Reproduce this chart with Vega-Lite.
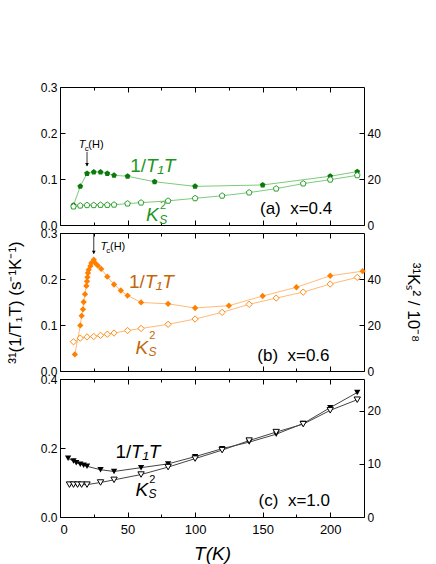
{
  "$schema": "https://vega.github.io/schema/vega-lite/v6.json",
  "background": "white",
  "padding": {"left": 5, "top": 80, "right": 0, "bottom": 0},
  "spacing": 8,
  "bounds": "flush",
  "datasets": {
    "a_r": [
      {"T": 10, "r": 0.043}, {"T": 15, "r": 0.084}, {"T": 20, "r": 0.112}, {"T": 25, "r": 0.115},
      {"T": 30, "r": 0.115}, {"T": 35, "r": 0.112}, {"T": 40, "r": 0.108}, {"T": 50, "r": 0.106},
      {"T": 70, "r": 0.094}, {"T": 100, "r": 0.084}, {"T": 150, "r": 0.087}, {"T": 200, "r": 0.106},
      {"T": 220, "r": 0.116}
    ],
    "a_k": [
      {"T": 10, "k": 8.0}, {"T": 15, "k": 8.4}, {"T": 20, "k": 8.6}, {"T": 25, "k": 8.6},
      {"T": 30, "k": 8.7}, {"T": 35, "k": 8.7}, {"T": 40, "k": 8.8}, {"T": 50, "k": 9.3},
      {"T": 60, "k": 9.7}, {"T": 80, "k": 10.5}, {"T": 100, "k": 11.6}, {"T": 120, "k": 12.7},
      {"T": 140, "k": 14.1}, {"T": 160, "k": 15.8}, {"T": 180, "k": 18.0}, {"T": 200, "k": 19.7},
      {"T": 220, "k": 21.6}
    ],
    "b_r": [
      {"T": 11, "r": 0.036}, {"T": 15, "r": 0.099}, {"T": 16, "r": 0.12}, {"T": 17, "r": 0.134},
      {"T": 17.5, "r": 0.15}, {"T": 18.5, "r": 0.167}, {"T": 19.5, "r": 0.185}, {"T": 20, "r": 0.195},
      {"T": 20.3, "r": 0.204}, {"T": 20.7, "r": 0.213}, {"T": 21.2, "r": 0.22}, {"T": 22.5, "r": 0.228},
      {"T": 23.2, "r": 0.235}, {"T": 25, "r": 0.242}, {"T": 26, "r": 0.235}, {"T": 28, "r": 0.229},
      {"T": 30.5, "r": 0.222}, {"T": 35, "r": 0.205}, {"T": 40, "r": 0.188}, {"T": 45, "r": 0.175},
      {"T": 50, "r": 0.164}, {"T": 60, "r": 0.149}, {"T": 80, "r": 0.146}, {"T": 100, "r": 0.137},
      {"T": 125, "r": 0.142}, {"T": 150, "r": 0.163}, {"T": 175, "r": 0.182}, {"T": 200, "r": 0.207},
      {"T": 224, "r": 0.217}
    ],
    "b_k": [
      {"T": 10, "k": 12.7}, {"T": 15, "k": 14.3}, {"T": 20, "k": 14.8}, {"T": 25, "k": 15.0},
      {"T": 30, "k": 15.5}, {"T": 35, "k": 16.0}, {"T": 40, "k": 16.5}, {"T": 50, "k": 17.6},
      {"T": 60, "k": 18.5}, {"T": 80, "k": 20.3}, {"T": 100, "k": 22.6}, {"T": 120, "k": 25.5},
      {"T": 140, "k": 29.0}, {"T": 160, "k": 31.7}, {"T": 180, "k": 34.3}, {"T": 200, "k": 37.8},
      {"T": 220, "k": 40.7}
    ],
    "c_r": [
      {"T": 6, "r": 0.17}, {"T": 10, "r": 0.162}, {"T": 12, "r": 0.157}, {"T": 15, "r": 0.153},
      {"T": 17.5, "r": 0.15}, {"T": 20, "r": 0.147}, {"T": 30, "r": 0.137}, {"T": 40, "r": 0.132},
      {"T": 60, "r": 0.143}, {"T": 80, "r": 0.154}, {"T": 100, "r": 0.175}, {"T": 120, "r": 0.198},
      {"T": 140, "r": 0.217}, {"T": 160, "r": 0.24}, {"T": 180, "r": 0.271}, {"T": 200, "r": 0.317},
      {"T": 220, "r": 0.361}
    ],
    "c_k": [
      {"T": 7, "k": 6.1}, {"T": 10, "k": 6.1}, {"T": 13, "k": 6.1}, {"T": 16, "k": 6.1},
      {"T": 20, "k": 6.1}, {"T": 30, "k": 6.5}, {"T": 40, "k": 7.0}, {"T": 60, "k": 8.0},
      {"T": 80, "k": 9.4}, {"T": 100, "k": 11.0}, {"T": 120, "k": 12.6}, {"T": 140, "k": 14.4},
      {"T": 160, "k": 16.0}, {"T": 180, "k": 17.5}, {"T": 200, "k": 20.1}, {"T": 220, "k": 22.1}
    ]
  },
  "vconcat": [
    {
      "width": 304,
      "height": 138,
      "layer": [
        {
          "encoding": {
            "x": {"field": "T", "type": "quantitative", "scale": {"domain": [0, 225]},
              "axis": {"values": [0, 25, 50, 75, 100, 125, 150, 175, 200], "labels": false, "title": null,
                "tickSize": {"condition": {"test": "datum.value % 50 == 0", "value": -5}, "value": -3}}}
          },
          "layer": [
            {"data": {"name": "a_r"}, "mark": {"type": "line", "color": "#7ccc7c", "strokeWidth": 1},
              "encoding": {"y": {"field": "r", "type": "quantitative", "scale": {"domain": [0, 0.3]},
                "axis": {"values": [0, 0.05, 0.1, 0.15, 0.2, 0.25, 0.3], "title": null, "labelPadding": 8,
                  "labelExpr": "abs(datum.value * 10 - round(datum.value * 10)) < 0.001 ? format(datum.value, '.1f') : ''",
                  "tickSize": {"condition": {"test": "abs(datum.value * 10 - round(datum.value * 10)) < 0.001", "value": -5}, "value": -3}}}}},
            {"data": {"name": "a_r"}, "mark": {"type": "point", "filled": true, "opacity": 1, "color": "#0b7a0b", "size": 36,
                "shape": "M0,-1L0.951,-0.309L0.588,0.809L-0.588,0.809L-0.951,-0.309Z"},
              "encoding": {"y": {"field": "r", "type": "quantitative"}}},
            {"data": {"values": [{"T": 52, "r": 0.116, "txt": "1/"}]},
              "mark": {"type": "text", "align": "left", "baseline": "alphabetic", "fontSize": 19, "color": "#1e961e"},
              "encoding": {"y": {"field": "r", "type": "quantitative"}, "text": {"field": "txt"}}},
            {"data": {"values": [{"T": 63.7, "r": 0.116, "txt": "T₁T"}, {"T": 63.7, "r": 0.009, "txt": "K"}]},
              "mark": {"type": "text", "align": "left", "baseline": "alphabetic", "fontSize": 19, "fontStyle": "italic", "color": "#1e961e"},
              "encoding": {"y": {"field": "r", "type": "quantitative"}, "text": {"field": "txt"}}},
            {"data": {"values": [{"T": 74, "r": 0.034, "txt": "2"}]},
              "mark": {"type": "text", "align": "left", "baseline": "alphabetic", "fontSize": 11, "color": "#1e961e"},
              "encoding": {"y": {"field": "r", "type": "quantitative"}, "text": {"field": "txt"}}},
            {"data": {"values": [{"T": 73.5, "r": 0.003, "txt": "S"}]},
              "mark": {"type": "text", "align": "left", "baseline": "alphabetic", "fontSize": 12, "fontStyle": "italic", "color": "#1e961e"},
              "encoding": {"y": {"field": "r", "type": "quantitative"}, "text": {"field": "txt"}}},
            {"data": {"values": [{"T": 148, "r": 0.024, "txt": "(a)\u00a0 x=0.4"}]},
              "mark": {"type": "text", "align": "left", "baseline": "alphabetic", "fontSize": 17, "color": "black"},
              "encoding": {"y": {"field": "r", "type": "quantitative"}, "text": {"field": "txt"}}},
            {"data": {"values": [{"T": 13.8, "r": 0.167, "txt": "T"}]},
              "mark": {"type": "text", "align": "left", "baseline": "alphabetic", "fontSize": 11, "fontStyle": "italic", "color": "black"},
              "encoding": {"y": {"field": "r", "type": "quantitative"}, "text": {"field": "txt"}}},
            {"data": {"values": [{"T": 18.3, "r": 0.161, "txt": "c"}]},
              "mark": {"type": "text", "align": "left", "baseline": "alphabetic", "fontSize": 8, "color": "black"},
              "encoding": {"y": {"field": "r", "type": "quantitative"}, "text": {"field": "txt"}}},
            {"data": {"values": [{"T": 21, "r": 0.167, "txt": "(H)"}]},
              "mark": {"type": "text", "align": "left", "baseline": "alphabetic", "fontSize": 11, "color": "black"},
              "encoding": {"y": {"field": "r", "type": "quantitative"}, "text": {"field": "txt"}}},
            {"data": {"values": [{"T": 20, "r": 0.159, "r2": 0.128}]},
              "mark": {"type": "rule", "color": "black", "strokeWidth": 0.8},
              "encoding": {"y": {"field": "r", "type": "quantitative"}, "y2": {"field": "r2"}}},
            {"data": {"values": [{"T": 20, "r": 0.131}]},
              "mark": {"type": "point", "shape": "triangle-down", "filled": true, "opacity": 1, "color": "black", "size": 14},
              "encoding": {"y": {"field": "r", "type": "quantitative"}}}
          ]
        },
        {
          "encoding": {
            "x": {"field": "T", "type": "quantitative", "scale": {"domain": [0, 225]},
              "axis": {"orient": "top", "values": [0, 25, 50, 75, 100, 125, 150, 175, 200], "labels": false, "title": null,
                "tickSize": {"condition": {"test": "datum.value % 50 == 0", "value": -5}, "value": -3}}}
          },
          "layer": [
            {"data": {"name": "a_k"}, "mark": {"type": "line", "color": "#7ccc7c", "strokeWidth": 1},
              "encoding": {"y": {"field": "k", "type": "quantitative", "scale": {"domain": [0, 57]},
                "axis": {"orient": "right", "values": [0, 10, 20, 30, 40, 50], "title": null, "labelPadding": 8,
                  "labelExpr": "datum.value % 20 == 0 ? datum.label : ''",
                  "tickSize": {"condition": {"test": "datum.value % 20 == 0", "value": -5}, "value": -3}}}}},
            {"data": {"name": "a_k"}, "mark": {"type": "point", "filled": false, "opacity": 1, "fill": "white", "stroke": "#2e9e2e", "strokeWidth": 1, "size": 36,
                "shape": "M0,-1L0.951,-0.309L0.588,0.809L-0.588,0.809L-0.951,-0.309Z"},
              "encoding": {"y": {"field": "k", "type": "quantitative"}}}
          ]
        }
      ],
      "resolve": {"scale": {"y": "independent"}, "axis": {"x": "independent", "y": "independent"}}
    },
    {
      "width": 304,
      "height": 138,
      "layer": [
        {
          "encoding": {
            "x": {"field": "T", "type": "quantitative", "scale": {"domain": [0, 225]},
              "axis": {"values": [0, 25, 50, 75, 100, 125, 150, 175, 200], "labels": false, "title": null,
                "tickSize": {"condition": {"test": "datum.value % 50 == 0", "value": -5}, "value": -3}}}
          },
          "layer": [
            {"data": {"name": "b_r"}, "mark": {"type": "line", "color": "#ffbb77", "strokeWidth": 1},
              "encoding": {"y": {"field": "r", "type": "quantitative", "scale": {"domain": [0, 0.3]},
                "axis": {"values": [0, 0.05, 0.1, 0.15, 0.2, 0.25, 0.3], "labelPadding": 8,
                  "title": "³¹(1/T₁T) (s⁻¹K⁻¹)", "titleFontSize": 17, "titleFontWeight": "normal", "titlePadding": 16,
                  "labelExpr": "abs(datum.value * 10 - round(datum.value * 10)) < 0.001 ? format(datum.value, '.1f') : ''",
                  "tickSize": {"condition": {"test": "abs(datum.value * 10 - round(datum.value * 10)) < 0.001", "value": -5}, "value": -3}}}}},
            {"data": {"name": "b_r"}, "mark": {"type": "point", "shape": "diamond", "filled": true, "opacity": 1, "color": "#ff8000", "size": 40},
              "encoding": {"y": {"field": "r", "type": "quantitative"}}},
            {"data": {"values": [{"T": 51, "r": 0.181, "txt": "1/"}]},
              "mark": {"type": "text", "align": "left", "baseline": "alphabetic", "fontSize": 19, "color": "#c0680c"},
              "encoding": {"y": {"field": "r", "type": "quantitative"}, "text": {"field": "txt"}}},
            {"data": {"values": [{"T": 62.7, "r": 0.181, "txt": "T₁T"}, {"T": 55.8, "r": 0.0376, "txt": "K"}]},
              "mark": {"type": "text", "align": "left", "baseline": "alphabetic", "fontSize": 19, "fontStyle": "italic", "color": "#c0680c"},
              "encoding": {"y": {"field": "r", "type": "quantitative"}, "text": {"field": "txt"}}},
            {"data": {"values": [{"T": 66, "r": 0.069, "txt": "2"}]},
              "mark": {"type": "text", "align": "left", "baseline": "alphabetic", "fontSize": 11, "color": "#c0680c"},
              "encoding": {"y": {"field": "r", "type": "quantitative"}, "text": {"field": "txt"}}},
            {"data": {"values": [{"T": 65.5, "r": 0.033, "txt": "S"}]},
              "mark": {"type": "text", "align": "left", "baseline": "alphabetic", "fontSize": 12, "fontStyle": "italic", "color": "#c0680c"},
              "encoding": {"y": {"field": "r", "type": "quantitative"}, "text": {"field": "txt"}}},
            {"data": {"values": [{"T": 146, "r": 0.022, "txt": "(b)\u00a0 x=0.6"}]},
              "mark": {"type": "text", "align": "left", "baseline": "alphabetic", "fontSize": 17, "color": "black"},
              "encoding": {"y": {"field": "r", "type": "quantitative"}, "text": {"field": "txt"}}},
            {"data": {"values": [{"T": 29.9, "r": 0.263, "txt": "T"}]},
              "mark": {"type": "text", "align": "left", "baseline": "alphabetic", "fontSize": 11, "fontStyle": "italic", "color": "black"},
              "encoding": {"y": {"field": "r", "type": "quantitative"}, "text": {"field": "txt"}}},
            {"data": {"values": [{"T": 34.3, "r": 0.2565, "txt": "c"}]},
              "mark": {"type": "text", "align": "left", "baseline": "alphabetic", "fontSize": 8, "color": "black"},
              "encoding": {"y": {"field": "r", "type": "quantitative"}, "text": {"field": "txt"}}},
            {"data": {"values": [{"T": 37, "r": 0.263, "txt": "(H)"}]},
              "mark": {"type": "text", "align": "left", "baseline": "alphabetic", "fontSize": 11, "color": "black"},
              "encoding": {"y": {"field": "r", "type": "quantitative"}, "text": {"field": "txt"}}},
            {"data": {"values": [{"T": 25, "r": 0.299, "r2": 0.255}]},
              "mark": {"type": "rule", "color": "black", "strokeWidth": 0.8},
              "encoding": {"y": {"field": "r", "type": "quantitative"}, "y2": {"field": "r2"}}},
            {"data": {"values": [{"T": 25, "r": 0.258}]},
              "mark": {"type": "point", "shape": "triangle-down", "filled": true, "opacity": 1, "color": "black", "size": 14},
              "encoding": {"y": {"field": "r", "type": "quantitative"}}}
          ]
        },
        {
          "encoding": {
            "x": {"field": "T", "type": "quantitative", "scale": {"domain": [0, 225]},
              "axis": {"orient": "top", "values": [0, 25, 50, 75, 100, 125, 150, 175, 200], "labels": false, "title": null,
                "tickSize": {"condition": {"test": "datum.value % 50 == 0", "value": -5}, "value": -3}}}
          },
          "layer": [
            {"data": {"name": "b_k"}, "mark": {"type": "line", "color": "#ffbb77", "strokeWidth": 1},
              "encoding": {"y": {"field": "k", "type": "quantitative", "scale": {"domain": [0, 57]},
                "axis": {"orient": "right", "values": [0, 10, 20, 30, 40, 50], "labelPadding": 8,
                  "title": "³¹Kₛ² / 10⁻⁸", "titleFontSize": 17, "titleFontWeight": "normal", "titlePadding": 23,
                  "labelExpr": "datum.value % 20 == 0 ? datum.label : ''",
                  "tickSize": {"condition": {"test": "datum.value % 20 == 0", "value": -5}, "value": -3}}}}},
            {"data": {"name": "b_k"}, "mark": {"type": "point", "shape": "diamond", "filled": false, "opacity": 1, "fill": "white", "stroke": "#ff8c1a", "strokeWidth": 1, "size": 40},
              "encoding": {"y": {"field": "k", "type": "quantitative"}}}
          ]
        }
      ],
      "resolve": {"scale": {"y": "independent"}, "axis": {"x": "independent", "y": "independent"}}
    },
    {
      "width": 304,
      "height": 138,
      "layer": [
        {
          "encoding": {
            "x": {"field": "T", "type": "quantitative", "scale": {"domain": [0, 225]},
              "axis": {"values": [0, 25, 50, 75, 100, 125, 150, 175, 200], "labelPadding": 11, "labelFontSize": 13,
                "labelExpr": "datum.value % 50 == 0 ? datum.label : ''",
                "title": "T(K)", "titleFontSize": 19, "titleFontWeight": "normal", "titleFontStyle": "italic", "titlePadding": 8,
                "tickSize": {"condition": {"test": "datum.value % 50 == 0", "value": -5}, "value": -3}}}
          },
          "layer": [
            {"data": {"name": "c_r"}, "mark": {"type": "line", "color": "#444444", "strokeWidth": 1},
              "encoding": {"y": {"field": "r", "type": "quantitative", "scale": {"domain": [0, 0.4]},
                "axis": {"values": [0, 0.05, 0.1, 0.15, 0.2, 0.25, 0.3, 0.35, 0.4], "title": null, "labelPadding": 8,
                  "labelExpr": "abs(datum.value * 10 - round(datum.value * 10)) < 0.001 ? format(datum.value, '.1f') : ''",
                  "tickSize": {"condition": {"test": "abs(datum.value * 10 - round(datum.value * 10)) < 0.001", "value": -5}, "value": -3}}}}},
            {"data": {"name": "c_r"}, "mark": {"type": "point", "shape": "triangle-down", "filled": true, "opacity": 1, "color": "black", "size": 40},
              "encoding": {"y": {"field": "r", "type": "quantitative"}}},
            {"data": {"values": [{"T": 41, "r": 0.17, "txt": "1/"}]},
              "mark": {"type": "text", "align": "left", "baseline": "alphabetic", "fontSize": 19, "color": "black"},
              "encoding": {"y": {"field": "r", "type": "quantitative"}, "text": {"field": "txt"}}},
            {"data": {"values": [{"T": 52.6, "r": 0.17, "txt": "T₁T"}, {"T": 55.8, "r": 0.061, "txt": "K"}]},
              "mark": {"type": "text", "align": "left", "baseline": "alphabetic", "fontSize": 19, "fontStyle": "italic", "color": "black"},
              "encoding": {"y": {"field": "r", "type": "quantitative"}, "text": {"field": "txt"}}},
            {"data": {"values": [{"T": 66, "r": 0.0995, "txt": "2"}]},
              "mark": {"type": "text", "align": "left", "baseline": "alphabetic", "fontSize": 11, "color": "black"},
              "encoding": {"y": {"field": "r", "type": "quantitative"}, "text": {"field": "txt"}}},
            {"data": {"values": [{"T": 65.5, "r": 0.055, "txt": "S"}]},
              "mark": {"type": "text", "align": "left", "baseline": "alphabetic", "fontSize": 12, "fontStyle": "italic", "color": "black"},
              "encoding": {"y": {"field": "r", "type": "quantitative"}, "text": {"field": "txt"}}},
            {"data": {"values": [{"T": 147, "r": 0.032, "txt": "(c)\u00a0 x=1.0"}]},
              "mark": {"type": "text", "align": "left", "baseline": "alphabetic", "fontSize": 17, "color": "black"},
              "encoding": {"y": {"field": "r", "type": "quantitative"}, "text": {"field": "txt"}}}
          ]
        },
        {
          "encoding": {
            "x": {"field": "T", "type": "quantitative", "scale": {"domain": [0, 225]},
              "axis": {"orient": "top", "values": [0, 25, 50, 75, 100, 125, 150, 175, 200], "labels": false, "title": null,
                "tickSize": {"condition": {"test": "datum.value % 50 == 0", "value": -5}, "value": -3}}}
          },
          "layer": [
            {"data": {"name": "c_k"}, "mark": {"type": "line", "color": "#444444", "strokeWidth": 1},
              "encoding": {"y": {"field": "k", "type": "quantitative", "scale": {"domain": [0, 26]},
                "axis": {"orient": "right", "values": [0, 5, 10, 15, 20, 25], "title": null, "labelPadding": 8,
                  "labelExpr": "datum.value % 10 == 0 ? datum.label : ''",
                  "tickSize": {"condition": {"test": "datum.value % 10 == 0", "value": -5}, "value": -3}}}}},
            {"data": {"name": "c_k"}, "mark": {"type": "point", "shape": "triangle-down", "filled": false, "opacity": 1, "fill": "white", "stroke": "black", "strokeWidth": 1, "size": 40},
              "encoding": {"y": {"field": "k", "type": "quantitative"}}}
          ]
        }
      ],
      "resolve": {"scale": {"y": "independent"}, "axis": {"x": "independent", "y": "independent"}}
    }
  ],
  "config": {
    "view": {"stroke": "black", "strokeWidth": 1},
    "font": "Liberation Sans",
    "axis": {"domain": false, "grid": false, "labelFont": "Liberation Sans", "titleFont": "Liberation Sans",
      "labelFontSize": 12, "labelColor": "black", "titleColor": "black", "tickColor": "black", "tickWidth": 1},
    "text": {"font": "Liberation Sans"}
  }
}
